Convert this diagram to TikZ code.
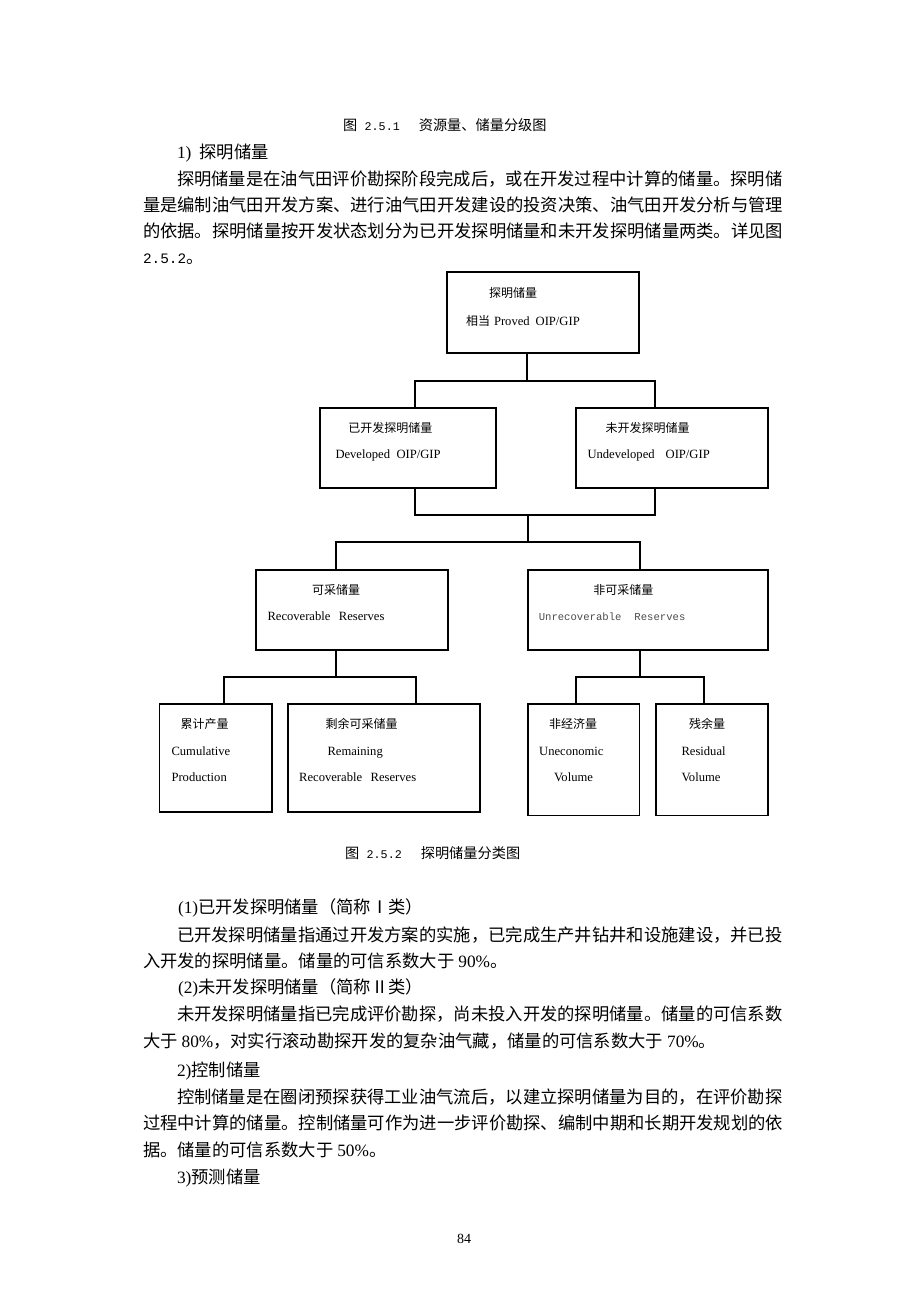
\documentclass[tikz,border=0pt]{standalone}
\usepackage{fontspec}
\setmainfont{Liberation Serif}
\newfontfamily\zhfont{Noto Sans CJK SC}
\newfontfamily\monofnt{Liberation Mono}
\usetikzlibrary{fit}
\newcommand\bodyfs{\fontsize{17.3}{20}\selectfont}
\newcommand\capfs{\fontsize{14.2}{17}\selectfont}
\newcommand\lblzh{\fontsize{12}{14}\selectfont\zhfont}
\newcommand\lblen{\fontsize{12.6}{14}\selectfont}
\begin{document}
\begin{tikzpicture}[x=1pt,y=-1pt,
  box/.style={draw=black,line width=1.1pt,inner sep=0pt,outer sep=0pt},
  conn/.style={draw=black,line width=1.1pt},
  txt/.style={anchor=base west,inner sep=0pt,outer sep=0pt,text=black},
  bline/.style={txt,font=\bodyfs}]
\fill[white] (0,0) rectangle (920,1302);
\useasboundingbox (0,0) rectangle (920,1302);

% ---------- upper text ----------
\node[txt,font=\capfs] (cap1) at (343,130.4) {{\zhfont 图}\hspace{7.5pt}{\monofnt\fontsize{11.7}{14}\selectfont 2.5.1}\hspace{19pt}{\zhfont 资源量、储量分级图}};
\node[bline] (h1) at (177,158.6) {1)\hspace{8pt}{\zhfont 探明储量}};
\node[bline] (p1) at (177,185.6) {\zhfont 探明储量是在油气田评价勘探阶段完成后，或在开发过程中计算的储量。探明储};
\node[bline] (p2) at (143,211.6) {\zhfont 量是编制油气田开发方案、进行油气田开发建设的投资决策、油气田开发分析与管理};
\node[bline] (p3) at (143,237.6) {\zhfont 的依据。探明储量按开发状态划分为已开发探明储量和未开发探明储量两类。详见图};
\node[bline] (p4) at (143,263.6) {{\monofnt\fontsize{14.4}{17}\selectfont 2.5.2}{\zhfont 。}};

% ---------- boxes ----------
\node[box,fit={(447,272)(639,353)}] (top) {};
\node[box,fit={(320,408)(496,488)}] (dev) {};
\node[box,fit={(576,408)(768,488)}] (undev) {};
\node[box,fit={(256,570)(448,650)}] (rec) {};
\node[box,fit={(528,570)(768,650)}] (unrec) {};
\node[box,fit={(159.5,704)(272,812)}] (cum) {};
\node[box,fit={(288,704)(480,812)}] (rem) {};
\node[box,fit={(528,704)(639.5,815.5)}] (uneco) {};
\node[box,fit={(656,704)(768,815.5)}] (resid) {};

% ---------- connectors ----------
\coordinate (j1) at (527,381);
\coordinate (a1) at (415,381);
\coordinate (a2) at (655,381);
\draw[conn] (top.south -| j1) -- (j1);
\draw[conn] (dev.north -| a1) -- (a1) -- (a2) -- (undev.north -| a2);

\coordinate (b1) at (415,515);
\coordinate (b2) at (655,515);
\coordinate (j2) at (528,515);
\coordinate (j3) at (528,542);
\coordinate (c1) at (336,542);
\coordinate (c2) at (640,542);
\draw[conn] (dev.south -| b1) -- (b1) -- (b2) -- (undev.south -| b2);
\draw[conn] (j2) -- (j3);
\draw[conn] (rec.north -| c1) -- (c1) -- (c2) -- (unrec.north -| c2);

\coordinate (d0) at (336,677);
\coordinate (d1) at (224,677);
\coordinate (d2) at (416,677);
\draw[conn] (rec.south -| d0) -- (d0);
\draw[conn] (cum.north -| d1) -- (d1) -- (d2) -- (rem.north -| d2);

\coordinate (e0) at (640,677);
\coordinate (e1) at (576,677);
\coordinate (e2) at (704,677);
\draw[conn] (unrec.south -| e0) -- (e0);
\draw[conn] (uneco.north -| e1) -- (e1) -- (e2) -- (resid.north -| e2);

% ---------- box labels ----------
\node[txt,font=\lblzh] (l1a) at (489,297.9) {探明储量};
\node[txt,font=\lblen] (l1b) at (466,325.4) {{\lblzh 相当}\hspace{4pt}Proved\hspace{6pt}OIP/GIP};
\node[txt,font=\lblzh] (l2a) at (348.3,432.3) {已开发探明储量};
\node[txt,font=\lblen] (l2b) at (335.5,458.5) {Developed\hspace{6.5pt}OIP/GIP};
\node[txt,font=\lblzh] (l3a) at (605.7,432.3) {未开发探明储量};
\node[txt,font=\lblen] (l3b) at (587.5,458.5) {Undeveloped\hspace{11pt}OIP/GIP};
\node[txt,font=\lblzh] (l4a) at (312,594.6) {可采储量};
\node[txt,font=\lblen] (l4b) at (267.5,620.9) {Recoverable\hspace{8.5pt}Reserves};
\node[txt,font=\lblzh] (l5a) at (593.3,594.6) {非可采储量};
\node[txt,text=black!70,font={\monofnt\fontsize{10.6}{13}\selectfont}] (l5b) at (538.8,620.9) {Unrecoverable\hspace{13pt}Reserves};
\node[txt,font=\lblzh] (l6a) at (180.7,728.9) {累计产量};
\node[txt,font=\lblen] (l6b) at (171.5,755.2) {Cumulative};
\node[txt,font=\lblen] (l6c) at (171.5,781.9) {Production};
\node[txt,font=\lblzh] (l7a) at (325.7,728.9) {剩余可采储量};
\node[txt,font=\lblen] (l7b) at (327.5,755.2) {Remaining};
\node[txt,font=\lblen] (l7c) at (299.2,781.9) {Recoverable\hspace{8.5pt}Reserves};
\node[txt,font=\lblzh] (l8a) at (549,728.9) {非经济量};
\node[txt,font=\lblen] (l8b) at (539.2,755.2) {Uneconomic};
\node[txt,font=\lblen] (l8c) at (554,781.9) {Volume};
\node[txt,font=\lblzh] (l9a) at (689,728.9) {残余量};
\node[txt,font=\lblen] (l9b) at (681.5,755.2) {Residual};
\node[txt,font=\lblen] (l9c) at (681.5,781.9) {Volume};

% ---------- lower text ----------
\node[txt,font=\capfs] (cap2) at (345,858.4) {{\zhfont 图}\hspace{7.5pt}{\monofnt\fontsize{11.7}{14}\selectfont 2.5.2}\hspace{19pt}{\zhfont 探明储量分类图}};
\node[bline] (q1) at (178,913.4) {(1){\zhfont 已开发探明储量（简称Ⅰ类）}};
\node[bline] (q2) at (177,941.6) {\zhfont 已开发探明储量指通过开发方案的实施，已完成生产井钻井和设施建设，并已投};
\node[bline] (q3) at (143,967.6) {{\zhfont 入开发的探明储量。储量的可信系数大于}\hspace{4pt}90\%{\zhfont 。}};
\node[bline] (q4) at (178,993.6) {(2){\zhfont 未开发探明储量（简称Ⅱ类）}};
\node[bline] (q5) at (177,1020.6) {\zhfont 未开发探明储量指已完成评价勘探，尚未投入开发的探明储量。储量的可信系数};
\node[bline] (q6) at (143,1047.6) {{\zhfont 大于}\hspace{4pt}80\%{\zhfont ，对实行滚动勘探开发的复杂油气藏，储量的可信系数大于}\hspace{4pt}70\%{\zhfont 。}};
\node[bline] (q7) at (177,1076.6) {2){\zhfont 控制储量}};
\node[bline] (q8) at (177,1103.6) {\zhfont 控制储量是在圈闭预探获得工业油气流后，以建立探明储量为目的，在评价勘探};
\node[bline] (q9) at (143,1129.6) {\zhfont 过程中计算的储量。控制储量可作为进一步评价勘探、编制中期和长期开发规划的依};
\node[bline] (q10) at (143,1156.6) {{\zhfont 据。储量的可信系数大于}\hspace{4pt}50\%{\zhfont 。}};
\node[bline] (q11) at (177,1183.6) {3){\zhfont 预测储量}};
\node[anchor=base,inner sep=0pt,font=\fontsize{14}{16}\selectfont] (pg) at (464,1243.8) {84};
\end{tikzpicture}
\end{document}
